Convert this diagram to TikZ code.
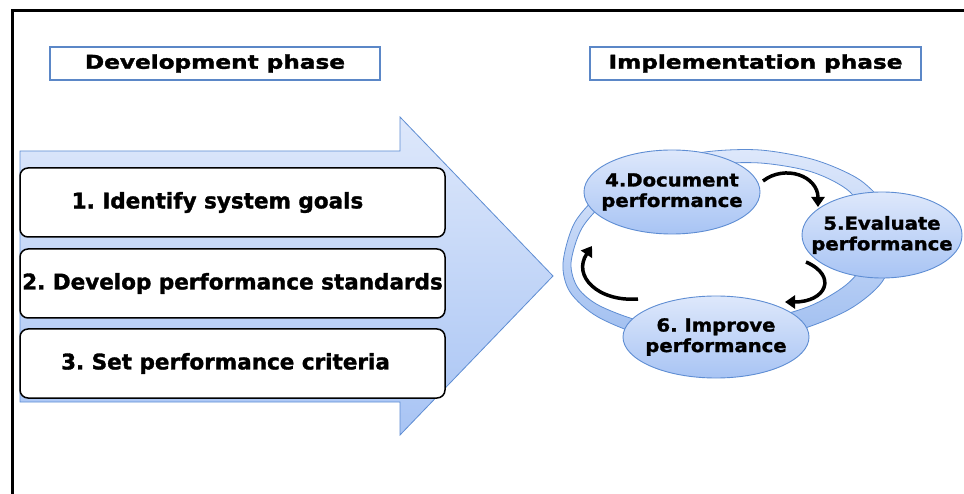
\documentclass[tikz,border=0pt]{standalone}
\usepackage{fontspec}
\usepackage{graphicx}
\setmainfont{DejaVu Sans}[FakeBold=1.5]
\newfontfamily\headfont{DejaVu Sans}[FakeStretch=1.22,FakeBold=1.8]
\newfontfamily\ellfont{DejaVu Sans}[FakeStretch=1.09,FakeBold=1.5]
\frenchspacing
\usetikzlibrary{shapes.geometric,arrows.meta}
\definecolor{bluetop}{HTML}{DEE8FB}
\definecolor{bluebot}{HTML}{A8C4F4}
\definecolor{ringbot}{HTML}{9FBEF0}
\definecolor{edgeblue}{HTML}{5E8DD3}
\definecolor{headblue}{HTML}{5B87C7}
\begin{document}
\begin{tikzpicture}[x=1pt,y=-1pt,
  headbox/.style={draw=headblue, line width=2.5pt, fill=white, inner sep=0pt,
    minimum width=330pt, minimum height=33pt, font=\headfont\bfseries\fontsize{19}{22}\selectfont},
  stepbox/.style={draw=black, line width=1.5pt, fill=white, rounded corners=8pt, inner sep=0pt,
    minimum width=425pt, minimum height=69pt, font=\bfseries\fontsize{21.5}{25}\selectfont},
  cycnode/.style={ellipse, draw=edgeblue, line width=0.9pt, top color=bluetop, bottom color=bluebot,
    inner xsep=-16pt, inner ysep=0pt, align=center, font=\ellfont\bfseries\fontsize{18}{20.5}\selectfont},
  cycarrow/.style={line width=3.5pt, -{Triangle[length=10pt,width=13pt]}}
]
\useasboundingbox (0,0) rectangle (964,494);
\fill[white] (0,0) rectangle (964,494);
% frame
\draw[line width=3pt] (12,494) -- (12,11) -- (964,11);

% headings
\node[headbox] (h1) at (215,63.5) {Development phase};
\node[headbox, minimum width=331pt] (h2) at (755.5,63.5) {Implementation phase};

% big arrow
\shadedraw[top color=bluetop, bottom color=bluebot, draw=edgeblue, line width=0.8pt]
  (20,151) -- (400,151) -- (400,117) -- (553,276) -- (400,435) -- (400,402) -- (20,402) -- cycle;

% steps
\node[stepbox] (s1) at (232.5,202.5) {1. Identify system goals\hspace*{30pt}};
\node[stepbox] (s2) at (232.5,283.5) {2. Develop performance standards};
\node[stepbox] (s3) at (232.5,363.5) {3. Set performance criteria\hspace*{14pt}};

% ring
\shade[even odd rule, top color=bluetop, bottom color=ringbot]
  plot[smooth cycle] coordinates {(563,263) (575,222) (605,190) (650,165) (705,152) (760,150) (815,160) (860,180) (888,210) (895,245) (882,282) (848,310) (792,332) (720,343) (650,337) (598,317) (570,292)}
  plot[smooth cycle] coordinates {(571,263) (582,228) (608,200) (650,178) (705,165) (760,163) (812,172) (850,192) (868,225) (864,262) (846,285) (810,306) (760,320) (700,325) (645,322) (600,306) (578,288)};
\draw[edgeblue, line width=0.8pt]
  plot[smooth cycle] coordinates {(563,263) (575,222) (605,190) (650,165) (705,152) (760,150) (815,160) (860,180) (888,210) (895,245) (882,282) (848,310) (792,332) (720,343) (650,337) (598,317) (570,292)}
  plot[smooth cycle] coordinates {(571,263) (582,228) (608,200) (650,178) (705,165) (760,163) (812,172) (850,192) (868,225) (864,262) (846,285) (810,306) (760,320) (700,325) (645,322) (600,306) (578,288)};

% cycle nodes
\node[cycnode, minimum width=176pt, minimum height=84pt] (e4) at (672,192) {4.Document\\performance};
\node[cycnode, minimum width=160pt, minimum height=86pt] (e5) at (882,235) {5.Evaluate\\performance};
\node[cycnode, minimum width=186pt, minimum height=82pt] (e6) at (716,337) {6. Improve\\performance};

% cycle arrows
\coordinate (a1s) at (763,181);
\coordinate (a1e) at (818,207);
\coordinate (a2s) at (806,262);
\coordinate (a2e) at (785,302);
\coordinate (a3s) at (638,299);
\coordinate (a3e) at (592,246);
\draw[cycarrow] (a1s) .. controls (785,164) and (818,176) .. (a1e);
\draw[cycarrow] (a2s) .. controls (838,276) and (826,302) .. (a2e);
\draw[cycarrow] (a3s) .. controls (598,302) and (572,276) .. (a3e);
\end{tikzpicture}
\end{document}
